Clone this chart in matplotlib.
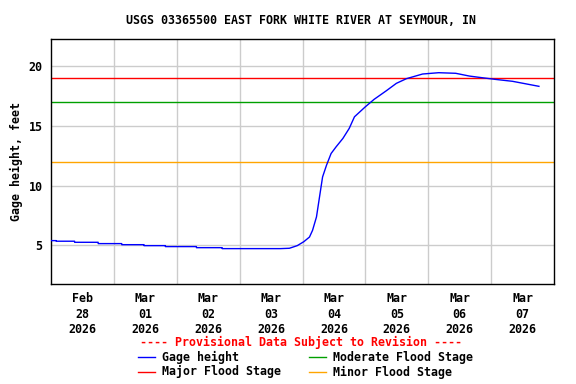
import numpy as np
import pandas as pd
import matplotlib
matplotlib.use('Agg')
import matplotlib.pyplot as plt
from matplotlib.lines import Line2D

# gage height readings
times = ["2026-02-28 00:00", "2026-02-28 02:00", "2026-02-28 02:01", "2026-02-28 09:00",
         "2026-02-28 09:01", "2026-02-28 18:00", "2026-02-28 18:01", "2026-03-01 03:00",
         "2026-03-01 03:01", "2026-03-01 11:30", "2026-03-01 11:31", "2026-03-01 19:40",
         "2026-03-01 19:41", "2026-03-02 07:30", "2026-03-02 07:31", "2026-03-02 17:20",
         "2026-03-02 17:21", "2026-03-03 15:30", "2026-03-03 19:00", "2026-03-03 22:00",
         "2026-03-04 00:30", "2026-03-04 02:40", "2026-03-04 03:50", "2026-03-04 05:20",
         "2026-03-04 06:30", "2026-03-04 07:40", "2026-03-04 09:10", "2026-03-04 10:55",
         "2026-03-04 12:50", "2026-03-04 15:25", "2026-03-04 17:50", "2026-03-04 19:50",
         "2026-03-05 00:00", "2026-03-05 03:20", "2026-03-05 08:00", "2026-03-05 11:50",
         "2026-03-05 15:40", "2026-03-05 21:50", "2026-03-06 04:00", "2026-03-06 10:30",
         "2026-03-06 15:40", "2026-03-06 19:30", "2026-03-07 01:40", "2026-03-07 08:10",
         "2026-03-07 18:15"]
gage = [5.39, 5.39, 5.34, 5.34, 5.25, 5.25, 5.14, 5.14, 5.05, 5.05, 4.97, 4.97,
        4.89, 4.89, 4.80, 4.80, 4.72, 4.72, 4.75, 4.97, 5.3, 5.69, 6.25, 7.37,
        9.05, 10.72, 11.7, 12.68, 13.24, 13.94, 14.78, 15.75, 16.59, 17.21, 17.93, 18.55,
        18.94, 19.33, 19.44, 19.39, 19.16, 19.05, 18.88, 18.72, 18.3]

major_stage = 19
moderate_stage = 17
minor_stage = 12

day_labels = ["Feb\n28\n2026", "Mar\n01\n2026", "Mar\n02\n2026", "Mar\n03\n2026",
              "Mar\n04\n2026", "Mar\n05\n2026", "Mar\n06\n2026", "Mar\n07\n2026"]
y_ticks = [5, 10, 15, 20]

font = {'family': 'DejaVu Sans Mono', 'weight': 'bold', 'size': 8.4}

t = pd.to_datetime(times)
start = pd.Timestamp("2026-02-28")
end = pd.Timestamp("2026-03-08")
midnights = pd.date_range(start, end, freq='D')
noons = midnights[:-1] + pd.Timedelta(hours=12)

fig = plt.figure(figsize=(5.76, 3.84), dpi=100)
ax = fig.add_axes([51 / 576, 100 / 384, 503 / 576, 245 / 384])

# gridlines first, then stages, then the data
for d in midnights[1:-1]:
    ax.axvline(d, color='#cccccc', lw=1, zorder=1)
for v in y_ticks:
    ax.axhline(v, color='#cccccc', lw=1, zorder=1)

ax.axhline(major_stage, color='red', lw=1, zorder=2)
ax.axhline(moderate_stage, color='#00a000', lw=1, zorder=2)
ax.axhline(minor_stage, color='orange', lw=1, zorder=2)
ax.plot(t, gage, color='blue', lw=1, zorder=3)

ax.set_xlim(start, end)
ax.set_ylim(1.76, 22.26)
ax.set_xticks(noons)
ax.set_xticklabels(day_labels, fontdict=font, linespacing=1.25)
ax.set_yticks(y_ticks)
ax.set_yticklabels([str(v) for v in y_ticks], fontdict=font)
ax.tick_params(length=0, pad=6)
ax.set_ylabel("Gage height, feet", fontdict=font, labelpad=4)
for s in ax.spines.values():
    s.set_linewidth(1)

fig.text(301 / 576, 1 - 21 / 384, "USGS 03365500 EAST FORK WHITE RIVER AT SEYMOUR, IN",
         ha='center', va='center', **font)
fig.text(301 / 576, 1 - 342 / 384, "---- Provisional Data Subject to Revision ----",
         ha='center', va='center', color='red', **font)

# legend drawn by hand in figure pixels
legend_items = [("Gage height", 'blue', 138, 357), ("Moderate Flood Stage", '#00a000', 309, 357),
                ("Major Flood Stage", 'red', 138, 372), ("Minor Flood Stage", 'orange', 309, 372)]
for label, col, x0, y0 in legend_items:
    yy = 1 - y0 / 384
    fig.add_artist(Line2D([x0 / 576, (x0 + 17) / 576], [yy, yy], color=col, lw=1))
    fig.text((x0 + 24) / 576, yy, label, ha='left', va='center', **font)

fig.savefig('out.png', dpi=100)
